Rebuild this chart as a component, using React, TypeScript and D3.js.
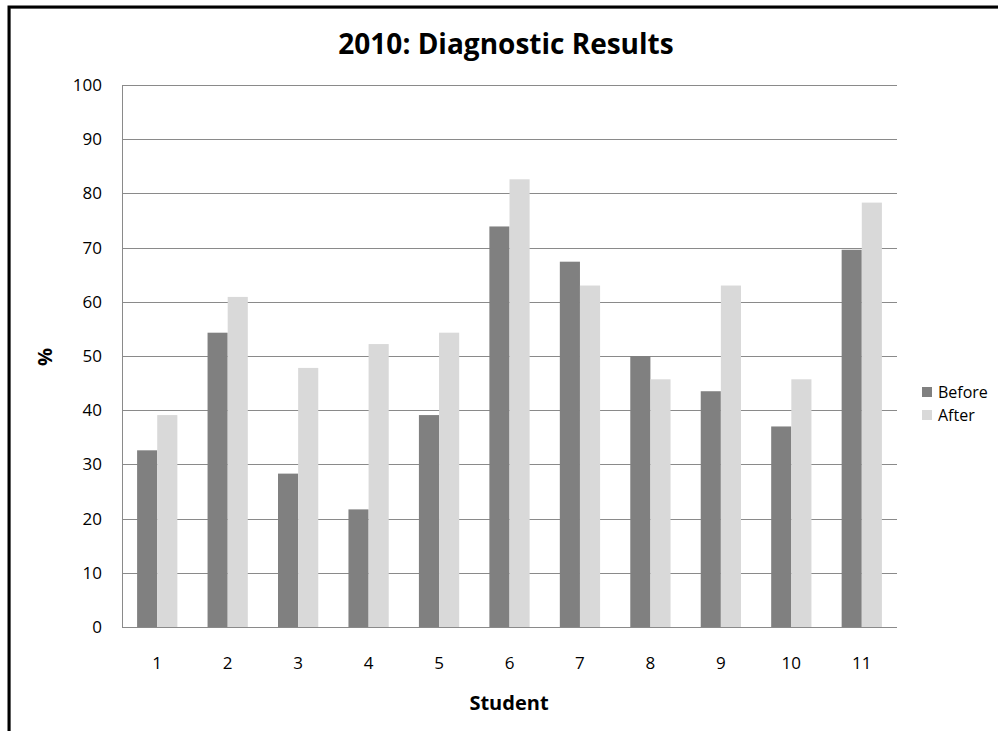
import React, { useEffect, useRef } from 'react';
import * as d3 from 'd3';

const students = ['1', '2', '3', '4', '5', '6', '7', '8', '9', '10', '11'];
const before = [32.6, 54.3, 28.3, 21.7, 39.1, 73.9, 67.4, 50.0, 43.5, 37.0, 69.6];
const after = [39.1, 60.9, 47.8, 52.2, 54.3, 82.6, 63.0, 45.7, 63.0, 45.7, 78.3];
const yTicks = [0, 10, 20, 30, 40, 50, 60, 70, 80, 90, 100];
const seriesNames = ['Before', 'After'];
const seriesColors = ['#808080', '#d9d9d9'];

const W = 998;
const H = 731;
const FONT = '"Open Sans", Lato, sans-serif';

export default function App() {
  const svgRef = useRef<SVGSVGElement>(null);

  useEffect(() => {
    if (!svgRef.current) return;
    const svg = d3.select(svgRef.current);
    svg.selectAll('*').remove();

    // chart frame (runs off the right/bottom edge like the source)
    svg.append('rect')
      .attr('x', 10.5).attr('y', 8.5)
      .attr('width', W + 20).attr('height', H + 20)
      .attr('fill', 'white').attr('stroke', '#bdbdbd').attr('stroke-width', 1);
    svg.append('rect')
      .attr('x', 9).attr('y', 7)
      .attr('width', W + 20).attr('height', H + 20)
      .attr('fill', 'none').attr('stroke', 'black').attr('stroke-width', 3);

    const left = 122, right = 897, top = 85, bottom = 627;

    const x = d3.scaleBand<string>().domain(students).range([left, right]).paddingInner(0).paddingOuter(0);
    const y = d3.scaleLinear().domain([0, 100]).range([bottom, top]);
    const barW = x.bandwidth() / 3.5;

    // gridlines
    svg.append('g').selectAll('line').data(yTicks.filter(t => t > 0)).join('line')
      .attr('x1', left).attr('x2', right)
      .attr('y1', d => Math.round(y(d)) + 0.5).attr('y2', d => Math.round(y(d)) + 0.5)
      .attr('stroke', '#8a8a8a').attr('stroke-width', 1);

    // bars
    const series = [before, after];
    series.forEach((vals, si) => {
      svg.append('g').selectAll('rect').data(vals).join('rect')
        .attr('x', (d, i) => (x(students[i]) as number) + x.bandwidth() / 2 - barW + si * barW)
        .attr('y', d => y(d))
        .attr('width', barW)
        .attr('height', d => bottom - y(d))
        .attr('fill', seriesColors[si]);
    });

    // axes lines
    svg.append('line').attr('x1', left + 0.5).attr('x2', left + 0.5).attr('y1', top).attr('y2', bottom)
      .attr('stroke', '#8a8a8a');
    svg.append('line').attr('x1', left).attr('x2', right).attr('y1', bottom + 0.5).attr('y2', bottom + 0.5)
      .attr('stroke', '#8a8a8a');

    // y tick labels
    svg.append('g').selectAll('text').data(yTicks).join('text')
      .attr('x', 102).attr('y', d => y(d))
      .attr('dy', '0.35em')
      .attr('text-anchor', 'end')
      .attr('font-family', FONT).attr('font-size', 17).attr('fill', '#000')
      .text(d => d);

    // x tick labels
    svg.append('g').selectAll('text').data(students).join('text')
      .attr('x', d => (x(d) as number) + x.bandwidth() / 2)
      .attr('y', 669)
      .attr('text-anchor', 'middle')
      .attr('font-family', FONT).attr('font-size', 17).attr('fill', '#000')
      .text(d => d);

    // title
    svg.append('text')
      .attr('x', 506).attr('y', 54)
      .attr('text-anchor', 'middle')
      .attr('font-family', FONT).attr('font-weight', 'bold').attr('font-size', 28)
      .text('2010: Diagnostic Results');

    // axis titles
    svg.append('text')
      .attr('x', 509).attr('y', 710)
      .attr('text-anchor', 'middle')
      .attr('font-family', FONT).attr('font-weight', 'bold').attr('font-size', 20)
      .text('Student');
    svg.append('text')
      .attr('transform', 'translate(52,357) rotate(-90)')
      .attr('text-anchor', 'middle')
      .attr('font-family', FONT).attr('font-weight', 'bold').attr('font-size', 20)
      .text('%');

    // legend
    const leg = svg.append('g');
    seriesNames.forEach((name, i) => {
      const cy = 392 + i * 23;
      leg.append('rect').attr('x', 922).attr('y', cy - 5).attr('width', 10).attr('height', 10)
        .attr('fill', seriesColors[i]);
      leg.append('text').attr('x', 938).attr('y', cy).attr('dy', '0.35em')
        .attr('font-family', FONT).attr('font-size', 16).text(name);
    });
  }, []);

  return (
    <svg ref={svgRef} width={W} height={H}
      style={{ position: 'absolute', left: 0, top: 0, background: 'white' }} />
  );
}
